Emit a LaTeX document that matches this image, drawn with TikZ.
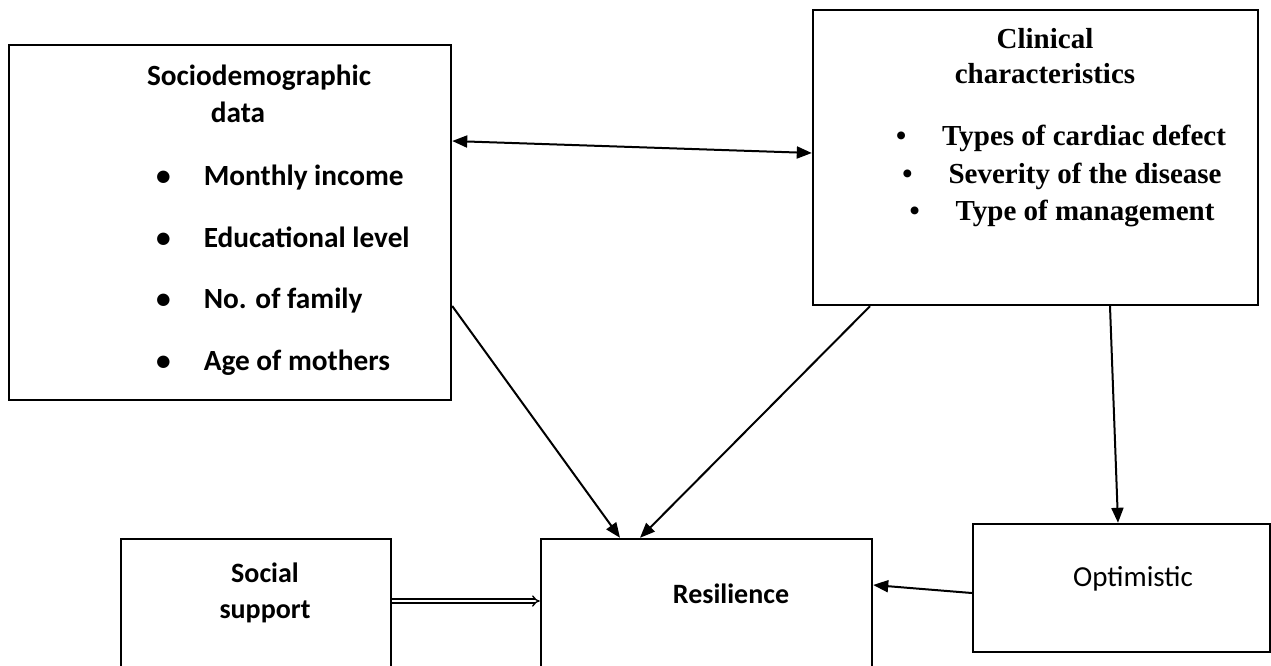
\documentclass[tikz,border=0pt]{standalone}
\usepackage{fontspec}
\setmainfont{Liberation Serif}
\newfontfamily\calibri{Carlito}
\usetikzlibrary{arrows.meta}
\tikzset{
  box/.style={draw=black, line width=2.4pt, inner sep=0pt},
  sanstext/.style={font={\calibri\bfseries\fontsize{28pt}{32pt}\selectfont}, inner sep=0pt},
  sociotext/.style={font={\calibri\bfseries\fontsize{29.3pt}{33pt}\selectfont}, inner sep=0pt},
  seriftext/.style={font={\bfseries\fontsize{29pt}{33pt}\selectfont}, inner sep=0pt},
  link/.style={line width=2pt, -{Triangle[length=15pt,width=12pt]}},
  bothlink/.style={line width=2pt, {Triangle[length=15pt,width=12pt]}-{Triangle[length=15pt,width=12pt]}}}

\begin{document}
\begin{tikzpicture}[x=1pt,y=-1pt]
\useasboundingbox (0,0) rectangle (1271,665);
\clip (0,0) rectangle (1271,665);
\node [box, minimum width=442pt, minimum height=355pt] (socio) at (230,222.5) {};
\node [box, minimum width=445pt, minimum height=295pt] (clin) at (1035.5,157.5) {};
\node [box, minimum width=270pt, minimum height=151pt] (social) at (256,614.5) {};
\node [box, minimum width=331pt, minimum height=151pt] (resil) at (706.5,614.5) {};
\node [box, minimum width=297pt, minimum height=128pt] (optim) at (1121.5,588) {};
\node [sociotext, anchor=base] (sociohead) at (259,85) {Sociodemographic};
\node [sociotext, anchor=base] (sociodata) at (238,122) {data};
\node [sociotext, anchor=base west] (income) at (156,185) {\textbullet\hspace{33pt}Monthly income};
\node [sociotext, anchor=base west] (edu) at (156,247) {\textbullet\hspace{33pt}Educational level};
\node [sociotext, anchor=base west] (family) at (156,308) {\textbullet\hspace{33pt}No. of family};
\node [sociotext, anchor=base west] (age) at (156,370) {\textbullet\hspace{33pt}Age of mothers};
\node [seriftext, anchor=base] (clinhead) at (1045,48) {Clinical};
\node [seriftext, anchor=base] (clinchar) at (1045,83) {characteristics};
\node [seriftext, anchor=base] (defect) at (1061,145) {\textbullet\hspace{36pt}Types of cardiac defect};
\node [seriftext, anchor=base] (severity) at (1062,183) {\textbullet\hspace{36pt}Severity of the disease};
\node [seriftext, anchor=base] (manage) at (1062,220) {\textbullet\hspace{36pt}Type of management};
\node [sanstext, anchor=base] (socialtxt) at (265,582) {Social};
\node [sanstext, anchor=base] (supporttxt) at (265,618) {support};
\node [sanstext, anchor=base] (resiltxt) at (731,603) {Resilience};
\node [sanstext, anchor=base, font={\calibri\fontsize{29pt}{33pt}\selectfont}] (optimtxt) at (1133,586) {Optimistic};
\draw [bothlink] ([yshift=81.5pt]socio.east) -- ([yshift=4.5pt]clin.west);
\draw [link] ([yshift=-83.5pt]socio.east) -- ([xshift=-86.5pt]resil.north);
\draw [link] ([xshift=-165.5pt]clin.south) -- ([xshift=-66.5pt]resil.north);
\draw [link] ([xshift=74.5pt]clin.south) -- ([xshift=-3.5pt]optim.north);
\draw [link] ([yshift=-5pt]optim.west) -- ([yshift=29.5pt]resil.east);
\draw [line width=1.3pt, double, double distance=2.5pt, -{Implies}] ([yshift=13.5pt]social.east) -- ([yshift=13.5pt]resil.west);
\end{tikzpicture}
\end{document}
